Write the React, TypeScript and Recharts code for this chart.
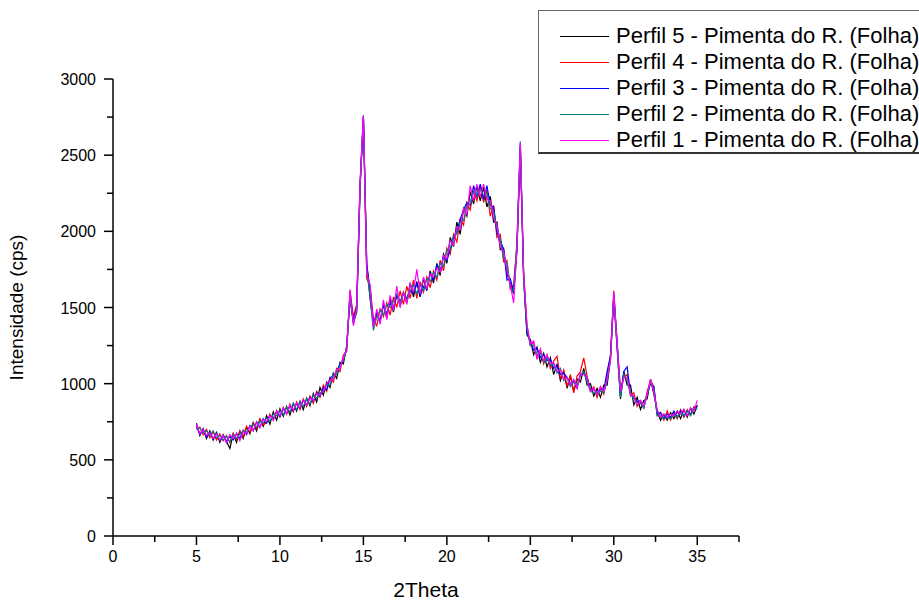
import React from 'react'
import { LineChart, Line, XAxis, YAxis, Legend } from 'recharts'

const THETA = [
  5, 5.2, 5.4, 5.6, 5.8, 6, 6.2, 6.4, 6.6, 6.8, 7,
  7.2, 7.4, 7.6, 7.8, 8, 8.2, 8.4, 8.6, 8.8, 9,
  9.2, 9.4, 9.6, 9.8, 10, 10.2, 10.4, 10.6, 10.8, 11,
  11.2, 11.4, 11.6, 11.8, 12, 12.2, 12.4, 12.6, 12.8, 13,
  13.2, 13.4, 13.6, 13.8, 14, 14.2, 14.4, 14.6, 14.8, 15,
  15.2, 15.4, 15.6, 15.8, 16, 16.2, 16.4, 16.6, 16.8, 17,
  17.2, 17.4, 17.6, 17.8, 18, 18.2, 18.4, 18.6, 18.8, 19,
  19.2, 19.4, 19.6, 19.8, 20, 20.2, 20.4, 20.6, 20.8, 21,
  21.2, 21.4, 21.6, 21.8, 22, 22.2, 22.4, 22.6, 22.8, 23,
  23.2, 23.4, 23.6, 23.8, 24, 24.2, 24.4, 24.6, 24.8, 25,
  25.2, 25.4, 25.6, 25.8, 26, 26.2, 26.4, 26.6, 26.8, 27,
  27.2, 27.4, 27.6, 27.8, 28, 28.2, 28.4, 28.6, 28.8, 29,
  29.2, 29.4, 29.6, 29.8, 30, 30.2, 30.4, 30.6, 30.8, 31,
  31.2, 31.4, 31.6, 31.8, 32, 32.2, 32.4, 32.6, 32.8, 33,
  33.2, 33.4, 33.6, 33.8, 34, 34.2, 34.4, 34.6, 34.8, 35,
]

// Perfil 5 (preto)
const PERFIL_5 = [
  740, 660, 705, 640, 690, 630, 680, 615, 665, 620, 575,
  670, 615, 690, 640, 715, 670, 745, 690, 765, 720,
  790, 735, 815, 760, 835, 785, 850, 795, 870, 820,
  885, 830, 905, 855, 935, 880, 975, 925, 1010, 975,
  1070, 1035, 1140, 1130, 1250, 1560, 1400, 1470, 2280, 2740,
  1790, 1560, 1380, 1470, 1400, 1530, 1430, 1560, 1470, 1590,
  1510, 1600, 1530, 1660, 1570, 1670, 1570, 1690, 1610, 1740,
  1660, 1790, 1710, 1850, 1790, 1960, 1900, 2060, 1980, 2150,
  2100, 2260, 2180, 2300, 2200, 2290, 2160, 2230, 2060, 2060,
  1880, 1890, 1720, 1660, 1590, 1880, 2540, 1690, 1320, 1290,
  1190, 1240, 1140, 1200, 1110, 1170, 1060, 1130, 1020, 1080,
  970, 1050, 950, 1030, 1010, 1100, 990, 1000, 920, 970,
  910, 990, 990, 1160, 1570, 1230, 900, 1080, 990, 990,
  860, 910, 830, 890, 900, 1030, 930, 820, 760, 800,
  760, 810, 770, 820, 770, 830, 780, 840, 800, 860,
]

// Perfil 4 (vermelho)
const PERFIL_4 = [
  700, 715, 665, 700, 645, 685, 630, 670, 625, 660, 615,
  675, 630, 690, 650, 720, 680, 740, 705, 770, 730,
  745, 800, 760, 825, 780, 845, 800, 865, 815, 880,
  830, 900, 850, 920, 870, 950, 910, 990, 950, 1040,
  1010, 1100, 1080, 1190, 1210, 1610, 1440, 1520, 2320, 2750,
  1690, 1640, 1420, 1380, 1490, 1440, 1530, 1450, 1570, 1500,
  1610, 1520, 1640, 1560, 1680, 1560, 1670, 1600, 1700, 1630,
  1740, 1680, 1810, 1740, 1890, 1850, 1980, 1930, 2080, 2040,
  2190, 2140, 2270, 2200, 2300, 2190, 2270, 2100, 2170, 1960,
  1980, 1800, 1810, 1620, 1650, 1920, 2560, 1730, 1380, 1250,
  1270, 1170, 1220, 1130, 1190, 1100, 1150, 1180, 1030, 1090,
  980, 1060, 940, 1050, 1080, 1170, 1050, 950, 980, 910,
  980, 930, 1050, 1190, 1610, 1270, 960, 1040, 1060, 920,
  940, 850, 880, 840, 950, 1020, 980, 790, 810, 760,
  820, 760, 810, 770, 830, 780, 830, 790, 850, 840,
]

// Perfil 3 (azul)
const PERFIL_3 = [
  720, 670, 700, 650, 680, 640, 675, 625, 660, 620, 655,
  630, 675, 640, 695, 665, 725, 690, 750, 715, 770,
  740, 790, 770, 815, 785, 835, 805, 855, 820, 870,
  840, 890, 860, 910, 885, 940, 920, 975, 960, 1040,
  1050, 1080, 1130, 1150, 1240, 1590, 1410, 1510, 2300, 2760,
  1780, 1620, 1400, 1450, 1420, 1510, 1460, 1530, 1500, 1580,
  1540, 1590, 1560, 1610, 1590, 1660, 1580, 1640, 1620, 1720,
  1680, 1780, 1740, 1830, 1810, 1880, 1960, 2000, 2080, 2140,
  2190, 2170, 2300, 2230, 2310, 2210, 2300, 2170, 2160, 1990,
  1940, 1880, 1680, 1690, 1600, 1900, 2570, 1700, 1330, 1280,
  1220, 1230, 1170, 1190, 1150, 1160, 1100, 1120, 1060, 1070,
  1040, 1000, 1020, 970, 1060, 1070, 1040, 960, 960, 940,
  960, 960, 1080, 1180, 1580, 1270, 920, 1080, 1110, 930,
  910, 880, 890, 850, 930, 1000, 980, 800, 810, 770,
  800, 780, 820, 780, 820, 790, 820, 800, 840, 850,
]

// Perfil 2 (verde-azulado)
const PERFIL_2 = [
  705, 710, 675, 690, 660, 690, 645, 660, 630, 655, 615,
  665, 640, 670, 690, 680, 720, 730, 715, 755, 740,
  775, 755, 800, 790, 825, 795, 845, 815, 870, 830,
  880, 850, 900, 865, 925, 905, 940, 950, 995, 990,
  1065, 1060, 1120, 1150, 1230, 1570, 1390, 1490, 2290, 2750,
  1750, 1570, 1350, 1440, 1480, 1450, 1520, 1500, 1540, 1590,
  1530, 1600, 1540, 1610, 1650, 1590, 1650, 1610, 1690, 1670,
  1730, 1700, 1790, 1770, 1880, 1880, 1970, 1980, 2060, 2070,
  2170, 2180, 2260, 2240, 2270, 2240, 2250, 2150, 2130, 2020,
  1950, 1820, 1790, 1630, 1610, 1930, 2590, 1680, 1360, 1250,
  1250, 1190, 1200, 1140, 1170, 1120, 1130, 1070, 1100, 1020,
  1040, 980, 1010, 990, 1060, 1080, 1010, 950, 940, 930,
  950, 940, 1020, 1160, 1580, 1240, 910, 1060, 1020, 930,
  900, 870, 870, 840, 930, 1010, 960, 790, 790, 770,
  780, 770, 800, 780, 810, 790, 820, 790, 840, 830,
]

// Perfil 1 (magenta)
const PERFIL_1 = [
  735, 670, 700, 660, 680, 640, 670, 630, 660, 610, 665,
  640, 670, 625, 685, 670, 720, 690, 745, 710, 765,
  750, 790, 760, 820, 790, 840, 800, 860, 825, 875,
  840, 895, 860, 905, 890, 935, 925, 955, 1000, 1020,
  1030, 1090, 1100, 1170, 1230, 1620, 1380, 1500, 2310, 2760,
  1720, 1650, 1370, 1490, 1390, 1550, 1420, 1580, 1480, 1640,
  1500, 1600, 1520, 1660, 1600, 1750, 1590, 1700, 1620, 1720,
  1700, 1760, 1730, 1840, 1820, 1940, 1910, 2030, 2010, 2150,
  2110, 2300, 2200, 2310, 2230, 2310, 2210, 2200, 2090, 2040,
  1900, 1870, 1740, 1650, 1530, 1890, 2580, 1710, 1390, 1260,
  1280, 1160, 1230, 1150, 1190, 1130, 1140, 1080, 1090, 1030,
  1040, 990, 1030, 970, 1070, 1060, 1040, 950, 970, 930,
  980, 950, 1030, 1150, 1600, 1250, 950, 1040, 1040, 930,
  920, 860, 890, 850, 930, 1030, 940, 830, 780, 800,
  780, 800, 790, 820, 800, 830, 790, 840, 820, 890,
]

const X_TICKS = [0, 2.5, 5, 7.5, 10, 12.5, 15, 17.5, 20, 22.5, 25, 27.5, 30, 32.5, 35, 37.5]
const Y_TICKS = [0, 250, 500, 750, 1000, 1250, 1500, 1750, 2000, 2250, 2500, 2750, 3000]

const SERIES = [
  { key: 'p5', name: 'Perfil 5 - Pimenta do R. (Folha)', color: '#000000', values: PERFIL_5 },
  { key: 'p4', name: 'Perfil 4 - Pimenta do R. (Folha)', color: '#FF0000', values: PERFIL_4 },
  { key: 'p3', name: 'Perfil 3 - Pimenta do R. (Folha)', color: '#0000FF', values: PERFIL_3 },
  { key: 'p2', name: 'Perfil 2 - Pimenta do R. (Folha)', color: '#008080', values: PERFIL_2 },
  { key: 'p1', name: 'Perfil 1 - Pimenta do R. (Folha)', color: '#FF00FF', values: PERFIL_1 },
]

const data = THETA.map((t, i) => {
  const row: Record<string, number> = { t }
  SERIES.forEach((s) => { row[s.key] = s.values[i] })
  return row
})

const FONT = '"Liberation Sans", Arial, sans-serif'

function XTick({ x, y, payload }: any) {
  const major = payload.value % 5 === 0
  return (
    <g>
      <line x1={x} x2={x} y1={y} y2={y + (major ? 9 : 6)} stroke="#000" strokeWidth={1.5} />
      {major && (
        <text x={x} y={y + 26} textAnchor="middle" fontSize={16} fontFamily={FONT} fill="#000">
          {payload.value}
        </text>
      )}
    </g>
  )
}

function YTick({ x, y, payload }: any) {
  const major = payload.value % 500 === 0
  return (
    <g>
      <line x1={x} x2={x - (major ? 9 : 6)} y1={y} y2={y} stroke="#000" strokeWidth={1.5} />
      {major && (
        <text x={x - 17} y={y + 6} textAnchor="end" fontSize={16} fontFamily={FONT} fill="#000">
          {payload.value}
        </text>
      )}
    </g>
  )
}

function LegendBox() {
  return (
    <div
      style={{
        border: '1px solid #666',
        borderBottom: '2px solid #333',
        width: 400,
        height: 144,
        boxSizing: 'border-box',
        paddingTop: 12,
        background: '#fff',
        fontFamily: FONT,
        fontSize: 22,
      }}
    >
      {SERIES.map((s) => (
        <div key={s.key} style={{ display: 'flex', alignItems: 'center', height: 26 }}>
          <div style={{ width: 49, height: 1, background: s.color, marginLeft: 21, marginRight: 7 }} />
          <span style={{ whiteSpace: 'nowrap', color: '#000' }}>{s.name}</span>
        </div>
      ))}
    </div>
  )
}

export default function App() {
  return (
    <div style={{ position: 'absolute', left: 0, top: 0, width: 919, height: 601, overflow: 'hidden', background: '#fff' }}>
      <LineChart width={919} height={601} data={data} margin={{ top: 79, right: 180, bottom: 5, left: 53 }}>
        <XAxis
          dataKey="t"
          type="number"
          domain={[0, 37.5]}
          ticks={X_TICKS}
          interval={0}
          tick={<XTick />}
          tickLine={false}
          tickSize={0}
          tickMargin={0}
          height={60}
          axisLine={{ stroke: '#000', strokeWidth: 1.5 }}
          label={{ value: '2Theta', position: 'insideBottom', offset: 0, fontSize: 21, fontFamily: FONT, fill: '#000', dy: 1 }}
        />
        <YAxis
          type="number"
          domain={[0, 3000]}
          ticks={Y_TICKS}
          interval={0}
          tick={<YTick />}
          tickLine={false}
          tickSize={0}
          tickMargin={0}
          width={60}
          axisLine={{ stroke: '#000', strokeWidth: 1.5 }}
          label={{ value: 'Intensidade (cps)', angle: -90, position: 'insideLeft', offset: 0, fontSize: 19, fontFamily: FONT, fill: '#000', dx: -37, style: { textAnchor: 'middle' } }}
        />
        <Legend
          layout="horizontal"
          verticalAlign="middle"
          align="center"
          wrapperStyle={{ position: 'absolute', left: 538, top: 10, width: 400, height: 144 }}
          content={() => <LegendBox />}
        />
        {SERIES.map((s) => (
          <Line
            key={s.key}
            dataKey={s.key}
            name={s.name}
            stroke={s.color}
            strokeWidth={1.2}
            dot={false}
            isAnimationActive={false}
          />
        ))}
      </LineChart>
    </div>
  )
}
